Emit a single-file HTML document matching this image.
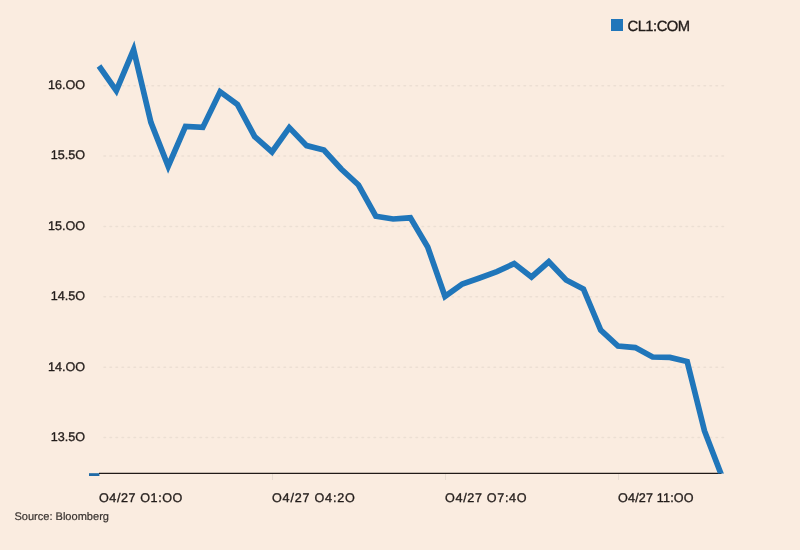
<!DOCTYPE html>
<html><head><meta charset="utf-8"><style>
html,body{margin:0;padding:0;background:#faece0;}
body{width:800px;height:550px;overflow:hidden;font-family:"Liberation Sans",sans-serif;}
svg{display:block}
svg text{text-rendering:geometricPrecision}
svg{will-change:transform;opacity:0.999}
text{font-family:"Liberation Sans",sans-serif;fill:#221c1a;stroke:#221c1a;stroke-width:0.35px;}
</style></head><body>
<svg width="800" height="550" viewBox="0 0 800 550">
<rect width="800" height="550" fill="#faece0"/>
<g stroke="#ecdfd3" stroke-width="1.5" stroke-dasharray="1.5 4.5" stroke-linecap="round" fill="none">
<line x1="104" y1="85.7" x2="726" y2="85.7"/>
<line x1="104" y1="155.9" x2="726" y2="155.9"/>
<line x1="104" y1="226.4" x2="726" y2="226.4"/>
<line x1="104" y1="296.8" x2="726" y2="296.8"/>
<line x1="104" y1="367.3" x2="726" y2="367.3"/>
<line x1="104" y1="437.6" x2="726" y2="437.6"/>
</g>
<g font-size="12.6" text-anchor="end">
<text x="85" y="89.0">16.OO</text>
<text x="85" y="159.20000000000002">15.5O</text>
<text x="85" y="229.70000000000002">15.OO</text>
<text x="85" y="300.1">14.5O</text>
<text x="85" y="370.6">14.OO</text>
<text x="85" y="440.90000000000003">13.5O</text>
</g>
<defs><clipPath id="c"><rect x="90" y="30" width="640" height="443.6"/></clipPath></defs>
<rect x="89" y="473.2" width="10.4" height="2.8" fill="#1f6aa6"/>
<line x1="99" y1="473.4" x2="721.5" y2="473.4" stroke="#211a17" stroke-width="1.3"/>
<g stroke="#e9ddd2" stroke-width="1">
<line x1="272.5" y1="474" x2="272.5" y2="480"/>
<line x1="445.5" y1="474" x2="445.5" y2="480"/>
<line x1="618.5" y1="474" x2="618.5" y2="480"/>
</g>
<g clip-path="url(#c)"><polyline points="99.0,66.0 116.3,90.6 133.6,49.6 150.9,122.3 168.2,166.2 185.5,126.4 202.8,127.4 220.1,91.8 237.4,104.4 254.7,136.6 272.0,152 289.3,127.6 306.6,145.6 323.9,150 341.2,169 358.5,185 375.8,216.2 393.1,219 410.4,217.8 427.7,247 445.0,296.4 462.3,284 479.6,278 496.9,271.6 514.2,263.6 531.5,277 548.8,261.8 566.1,280 583.4,289 600.7,330 618.0,346 635.3,347.6 652.6,357 669.9,357.4 687.2,361.6 704.5,431 721.8,476" fill="none" stroke="#2076ba" stroke-width="5.7" stroke-linejoin="miter" stroke-miterlimit="10"/></g>
<g font-size="12.6">
<text x="99" y="502" textLength="83.4" lengthAdjust="spacing">O4/27 O1:OO</text>
<text x="272" y="502" textLength="82.8" lengthAdjust="spacing">O4/27 O4:2O</text>
<text x="445" y="502" textLength="81.6" lengthAdjust="spacing">O4/27 O7:4O</text>
<text x="618" y="502" textLength="75.6" lengthAdjust="spacing">O4/27 11:OO</text>
</g>
<text x="14.4" y="520" font-size="11.05" style="fill:#3a3431;stroke:#3a3431;stroke-width:0.2px">Source: Bloomberg</text>
<rect x="611" y="19" width="12" height="12" fill="#2076ba"/>
<text x="627.5" y="30.6" font-size="14.8" textLength="62.6" lengthAdjust="spacing">CL1:COM</text>
</svg>
</body></html>
